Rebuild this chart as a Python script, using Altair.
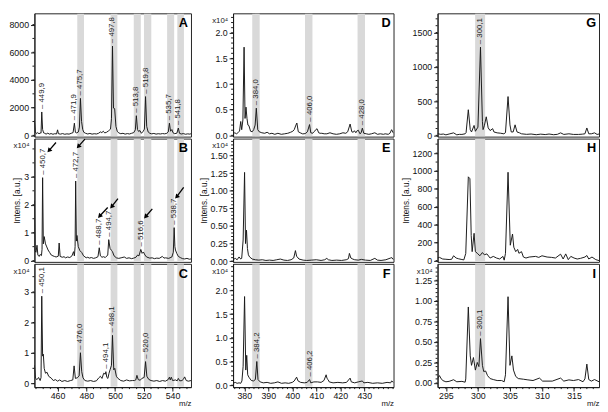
import altair as alt
import pandas as pd

FONT = "Liberation Sans"
INK = "#1a1a1a"
BAND = "#d9d9d9"

# ---------------- column 1 : m/z 444-553 ----------------
col1_domain = [443.9, 552.8]
col1_bands = [(473.7, 478.4), (496.9, 501.6), (513.0, 517.9), (520.1, 525.2), (536.2, 541.1), (543.3, 547.9)]
col1_ticks = [460, 480, 500, 520, 540]
col1_minor = [445, 450, 455, 460, 465, 470, 475, 480, 485, 490, 495, 500, 505, 510, 515, 520, 525, 530, 535, 540, 545, 550]

a_points = [(443.9,1100),(444.5,260),(445.4,120),(446.2,200),(447.1,110),(447.9,180),(448.5,160),(449.0,1690),(449.6,420),(450.3,180),(451.1,150),(452.0,90),(453.2,160),(454.3,90),(455.5,130),(456.8,80),(458.0,120),(459.3,100),(460.0,400),(460.6,120),(462.0,90),(463.5,130),(465.0,80),(466.5,110),(468.0,90),(469.5,150),(470.8,200),(471.7,880),(472.4,220),(473.3,180),(474.5,250),(475.2,600),(475.9,2670),(476.7,1000),(477.5,420),(478.3,220),(479.5,150),(481.0,100),(482.5,140),(484.0,90),(485.5,120),(487.0,100),(488.5,150),(489.8,250),(490.8,200),(491.8,300),(492.8,180),(494.0,220),(495.5,330),(496.8,450),(497.5,1200),(498.2,6450),(498.9,1970),(499.7,1930),(500.6,650),(501.5,300),(502.5,180),(504.0,120),(505.5,150),(507.0,90),(508.5,130),(510.0,100),(511.5,150),(513.0,200),(514.1,400),(514.8,1420),(515.6,420),(516.4,280),(517.3,350),(518.3,150),(519.6,300),(520.4,450),(521.2,2800),(522.0,650),(523.0,250),(524.2,150),(525.5,110),(527.0,140),(528.5,90),(530.0,120),(531.5,100),(533.0,130),(534.5,110),(536.0,150),(537.0,250),(537.8,880),(538.6,300),(539.5,420),(540.3,190),(541.5,120),(543.0,160),(544.0,530),(544.8,150),(546.0,100),(547.5,130),(549.0,80),(550.5,110),(552.0,90),(552.8,120)]
a_peaks = [(449.0,1690,"449,9"),(471.7,880,"471,9"),(475.9,2670,"475,7"),(498.2,6450,"497,8"),(514.8,1420,"513,8"),(521.2,2800,"519,8"),(537.8,880,"535,7"),(544.0,530,"541,8")]

b_points = [(443.9,2.15),(444.4,0.35),(445.0,0.3),(445.7,0.55),(446.3,0.2),(447.2,0.15),(447.9,0.22),(448.8,0.18),(449.2,0.4),(449.6,2.97),(450.1,0.6),(450.7,0.86),(451.6,0.6),(452.5,0.49),(453.4,0.38),(454.5,0.29),(455.6,0.2),(456.8,0.17),(457.8,0.15),(459.0,0.13),(460.5,0.16),(461.1,0.63),(461.8,0.15),(463.3,0.12),(464.5,0.14),(465.5,0.1),(467.0,0.13),(468.5,0.11),(470.0,0.17),(471.1,0.32),(471.7,0.17),(472.2,0.5),(472.6,2.85),(473.1,0.7),(473.5,0.9),(474.4,0.5),(475.5,0.36),(476.8,0.29),(478.1,0.17),(479.9,0.1),(481.0,0.12),(482.1,0.09),(483.5,0.11),(485.0,0.08),(486.5,0.1),(488.1,0.14),(489.0,0.46),(489.8,0.17),(490.9,0.12),(492.0,0.14),(493.2,0.11),(494.9,0.2),(495.6,0.75),(496.5,0.44),(497.6,0.36),(498.2,0.32),(499.3,0.17),(500.9,0.1),(502.5,0.08),(504.2,0.1),(506.4,0.13),(508.0,0.08),(509.7,0.1),(511.5,0.07),(513.0,0.09),(514.5,0.12),(515.7,0.2),(516.6,0.17),(517.9,0.40),(518.8,0.26),(519.7,0.31),(520.8,0.2),(521.9,0.13),(524.1,0.09),(525.8,0.1),(527.4,0.07),(529.0,0.09),(530.7,0.08),(532.9,0.15),(534.0,0.09),(535.1,0.1),(537.3,0.08),(539.5,0.13),(540.5,0.3),(541.1,1.18),(541.6,0.5),(542.0,0.38),(542.9,0.26),(544.0,0.15),(545.7,0.1),(547.0,0.07),(548.4,0.06),(550.0,0.08),(551.7,0.05),(552.8,0.06)]
b_peaks = [(449.6,2.97,"450,7"),(472.6,2.85,"472,7"),(489.0,0.46,"488,7"),(495.6,0.75,"494,7"),(517.9,0.40,"516,6"),(541.1,1.18,"538,7")]
b_arrows = [(458.9,4.23,454.0,3.94),(479.0,4.35,474.4,4.08),(494.9,1.90,489.2,1.59),(502.0,2.22,497.6,1.93),(525.9,1.85,521.2,1.57),(547.7,2.62,542.8,2.28)]

c_points = [(443.9,0.6),(444.6,0.18),(445.7,0.13),(446.8,0.2),(447.9,0.1),(448.5,0.2),(449.0,2.86),(449.6,0.9),(450.1,0.96),(450.7,0.5),(451.6,0.34),(452.7,0.37),(453.8,0.24),(455.6,0.18),(457.0,0.1),(458.5,0.13),(460.0,0.08),(461.5,0.12),(463.0,0.07),(465.0,0.1),(467.0,0.07),(469.0,0.1),(470.6,0.12),(471.5,0.58),(472.4,0.17),(473.7,0.19),(475.0,0.25),(475.9,1.01),(476.8,0.39),(477.7,0.19),(479.0,0.1),(481.0,0.08),(483.0,0.1),(485.0,0.07),(487.0,0.09),(488.7,0.19),(489.8,0.24),(490.9,0.17),(492.1,0.34),(493.2,0.31),(493.6,0.39),(494.3,0.2),(495.0,0.17),(495.8,0.34),(496.5,0.45),(497.5,0.6),(498.2,1.58),(499.1,0.45),(499.8,0.5),(500.9,0.24),(502.0,0.17),(504.0,0.1),(506.0,0.08),(508.0,0.12),(510.0,0.09),(512.0,0.1),(513.5,0.1),(514.4,0.12),(515.2,0.27),(516.1,0.13),(517.5,0.11),(518.6,0.17),(520.2,0.2),(521.2,0.72),(522.1,0.24),(523.4,0.14),(525.0,0.1),(527.0,0.08),(529.0,0.1),(531.0,0.07),(533.0,0.1),(535.0,0.08),(536.9,0.13),(537.8,0.21),(538.4,0.12),(539.1,0.21),(540.0,0.1),(542.0,0.12),(543.2,0.09),(544.0,0.17),(545.0,0.09),(546.5,0.1),(547.5,0.14),(548.4,0.22),(549.5,0.1),(551.0,0.08),(552.8,0.1)]
c_peaks = [(449.0,2.86,"450,1"),(475.9,1.01,"476,0"),(493.6,0.39,"494,1"),(498.2,1.58,"498,1"),(521.2,0.72,"520,0")]

# ---------------- column 2 : m/z 375-442 ----------------
col2_domain = [375.3, 442.2]
col2_bands = [(383.3, 386.4), (405.3, 408.4), (427.2, 430.3)]
col2_ticks = [380, 390, 400, 410, 420, 430]
col2_minor = [376 + 2 * i for i in range(34)]

d_points = [(375.3,0.02),(376.0,0.05),(376.8,0.03),(377.5,0.06),(378.0,0.08),(378.5,0.27),(378.9,0.11),(379.4,0.3),(379.9,1.72),(380.3,0.33),(380.7,0.55),(381.1,0.33),(381.5,0.2),(381.9,0.19),(382.6,0.08),(383.3,0.07),(383.9,0.11),(384.5,0.2),(385.0,0.53),(385.6,0.11),(386.2,0.07),(387.3,0.05),(388.5,0.04),(389.5,0.06),(390.5,0.03),(391.5,0.04),(392.7,0.02),(394.0,0.04),(395.4,0.02),(396.8,0.03),(398.1,0.04),(399.3,0.06),(400.2,0.08),(400.8,0.11),(401.5,0.2),(401.9,0.24),(402.5,0.07),(403.3,0.05),(404.2,0.03),(404.9,0.03),(405.6,0.04),(406.3,0.07),(407.2,0.21),(407.7,0.05),(408.5,0.04),(409.0,0.07),(410.3,0.13),(411.0,0.05),(411.6,0.04),(412.3,0.04),(413.3,0.03),(414.4,0.03),(415.7,0.05),(417.0,0.03),(418.4,0.02),(419.8,0.03),(421.1,0.05),(422.3,0.04),(423.1,0.07),(424.1,0.22),(424.8,0.07),(425.4,0.06),(425.9,0.09),(426.5,0.05),(426.8,0.08),(427.5,0.1),(428.2,0.03),(428.7,0.05),(429.2,0.14),(429.8,0.04),(430.8,0.03),(431.9,0.02),(433.0,0.03),(434.4,0.05),(435.5,0.02),(436.7,0.03),(438.0,0.02),(438.7,0.03),(440.0,0.02),(440.7,0.04),(441.4,0.11),(442.2,0.04)]
d_peaks = [(385.0,0.53,"384,0"),(407.2,0.21,"406,0"),(429.2,0.14,"428,0")]

e_points = [(375.3,0.02),(376.2,0.04),(377.0,0.02),(377.8,0.06),(378.5,0.03),(378.9,0.04),(379.5,0.3),(380.1,1.26),(380.5,0.25),(380.9,0.44),(381.3,0.18),(381.7,0.09),(382.2,0.06),(383.3,0.03),(384.6,0.02),(386.0,0.015),(387.5,0.02),(389.0,0.01),(390.5,0.015),(392.0,0.01),(393.5,0.02),(395.0,0.03),(396.5,0.015),(398.0,0.01),(399.5,0.02),(400.6,0.045),(401.3,0.15),(401.8,0.07),(402.8,0.03),(404.5,0.015),(406.0,0.01),(408.0,0.015),(410.0,0.02),(412.0,0.01),(413.5,0.02),(414.4,0.04),(415.0,0.02),(416.5,0.01),(418.5,0.015),(420.5,0.01),(422.5,0.02),(423.4,0.035),(423.8,0.11),(424.4,0.045),(425.2,0.03),(426.0,0.02),(427.5,0.015),(428.8,0.025),(430.5,0.015),(432.5,0.01),(434.4,0.04),(435.5,0.015),(437.0,0.01),(439.0,0.02),(441.0,0.045),(441.5,0.05),(442.2,0.02)]

f_points = [(375.3,0.04),(376.2,0.06),(377.0,0.04),(377.8,0.05),(378.5,0.04),(379.0,0.09),(379.5,0.4),(380.1,1.87),(380.6,0.32),(381.0,0.63),(381.4,0.22),(381.9,0.17),(382.9,0.1),(383.8,0.09),(384.6,0.12),(385.2,0.5),(385.7,0.12),(386.6,0.07),(387.9,0.05),(389.5,0.06),(391.0,0.04),(392.5,0.05),(394.0,0.07),(395.5,0.04),(397.0,0.05),(398.5,0.04),(400.0,0.06),(400.8,0.09),(401.8,0.17),(402.4,0.09),(403.5,0.06),(405.0,0.05),(406.2,0.06),(407.2,0.12),(407.7,0.05),(409.0,0.07),(410.5,0.07),(412.0,0.06),(413.2,0.1),(414.1,0.22),(414.5,0.14),(414.9,0.12),(415.4,0.07),(417.0,0.05),(419.0,0.06),(421.0,0.05),(422.6,0.06),(424.1,0.15),(424.6,0.07),(426.0,0.05),(427.5,0.07),(429.2,0.09),(429.8,0.05),(431.5,0.06),(433.5,0.04),(435.5,0.05),(437.5,0.04),(439.5,0.06),(441.0,0.05),(441.4,0.09),(442.2,0.06)]
f_peaks = [(385.2,0.5,"384,2"),(407.2,0.12,"406,2")]

# ---------------- column 3 : m/z 294-319 ----------------
col3_domain = [293.7, 318.9]
col3_bands = [(299.56, 301.12)]
col3_ticks = [295, 300, 305, 310, 315]
col3_minor = list(range(294, 319))

g_points = [(293.7,25),(294.2,15),(294.6,20),(295.0,8),(295.5,20),(296.2,37),(296.7,8),(297.1,15),(297.5,14),(298.0,23),(298.15,40),(298.5,374),(298.8,84),(299.0,50),(299.4,145),(299.6,60),(300.0,120),(300.4,1287),(300.7,200),(300.8,84),(301.0,140),(301.3,271),(301.6,110),(301.9,70),(302.3,98),(302.5,50),(303.0,37),(303.5,32),(304.05,23),(304.3,40),(304.7,566),(305.0,154),(305.2,50),(305.5,50),(305.8,154),(306.1,50),(306.5,37),(306.8,23),(307.6,15),(308.3,20),(309.1,10),(309.8,18),(310.5,12),(311.1,20),(311.8,10),(312.4,15),(312.9,37),(313.4,14),(314.2,23),(314.9,14),(315.7,14),(316.3,18),(316.7,23),(317.0,108),(317.3,23),(317.7,23),(318.2,37),(318.6,14),(318.9,20)]
g_peaks = [(300.4,1287,"300,1")]

h_points = [(293.7,29),(294.0,36),(294.5,18),(295.0,15),(295.5,12),(295.9,15),(296.2,54),(296.6,29),(297.0,20),(297.5,12),(297.8,8),(298.1,80),(298.5,935),(298.75,914),(298.95,280),(299.1,100),(299.4,305),(299.6,100),(299.9,82),(300.3,54),(300.7,90),(301.0,65),(301.4,75),(301.9,29),(302.4,47),(302.9,29),(303.4,18),(303.9,47),(304.1,5),(304.3,80),(304.7,986),(305.05,172),(305.4,297),(305.6,150),(305.9,100),(306.2,125),(306.4,82),(306.8,100),(307.1,40),(307.5,29),(308.0,40),(309.0,47),(309.5,36),(310.0,54),(310.8,40),(311.5,36),(312.1,29),(312.9,72),(313.3,18),(313.7,75),(314.1,11),(314.5,47),(315.0,29),(315.5,18),(316.0,25),(316.7,40),(317.0,57),(317.3,18),(317.8,40),(318.4,11),(318.9,0)]

i_points = [(293.7,0.054),(294.0,0.09),(294.2,0.06),(294.5,0.03),(295.0,0.015),(295.5,0.02),(296.2,0.04),(296.7,0.015),(297.5,0.02),(298.0,0.01),(298.1,0.05),(298.5,0.925),(298.8,0.33),(299.0,0.215),(299.3,0.31),(299.6,0.157),(299.9,0.25),(300.15,0.2),(300.4,0.54),(300.7,0.215),(300.9,0.14),(301.2,0.146),(301.5,0.09),(301.9,0.054),(302.4,0.042),(303.0,0.03),(303.7,0.03),(304.1,0.015),(304.3,0.1),(304.7,1.05),(305.0,0.215),(305.3,0.33),(305.55,0.157),(305.9,0.08),(306.3,0.054),(307.1,0.046),(307.8,0.038),(308.6,0.03),(309.6,0.06),(310.1,0.023),(311.6,0.023),(312.9,0.06),(313.4,0.023),(314.2,0.038),(314.9,0.03),(315.7,0.042),(316.4,0.015),(316.7,0.05),(317.0,0.23),(317.3,0.042),(317.7,0.023),(318.2,0.042),(318.9,0.015)]
i_peaks = [(300.4,0.54,"300,1")]

W1, W2, W3 = 160, 164, 165
H_TOP, H_MID, H_BOT = 126, 126, 126


def panel(points, xdom, ydom, bands, w, h, letter, yticks, yfmt, yminor,
          xticks=None, xminor=None, peaks=(), mult=False, ytitle=None, arrows=()):
    xs = alt.Scale(domain=xdom, nice=False, zero=False)
    ys = alt.Scale(domain=ydom, nice=False, zero=False)
    if xticks:
        xax = alt.Axis(values=xticks, format="d", title="m/z", titleAnchor="end",
                       titleFontSize=8, titleFontWeight="normal", titleBaseline="top",
                       titleY=13, labelPadding=1, tickSize=4)
    else:
        xax = None
    if ytitle:
        yax = alt.Axis(values=yticks, format=yfmt, tickSize=4, labelPadding=2,
                       title=ytitle, titleFontSize=8.5, titleFontWeight="normal", titlePadding=2)
    else:
        yax = alt.Axis(values=yticks, format=yfmt, tickSize=4, labelPadding=2, title=None)

    def X(f):
        return alt.X(f, type="quantitative", scale=xs, axis=xax)

    def Y(f):
        return alt.Y(f, type="quantitative", scale=ys, axis=yax)

    layers = []
    band_df = pd.DataFrame(bands, columns=["x0", "x1"])
    layers.append(alt.Chart(band_df).mark_rect(color=BAND).encode(
        x=X("x0"), x2="x1", y=alt.value(0.5), y2=alt.value(h - 0.5)))
    layers.append(alt.Chart(pd.DataFrame({"t": yminor})).mark_rule(color=INK, strokeWidth=1).encode(
        y=Y("t"), x=alt.value(0), x2=alt.value(-2)))
    if xminor:
        layers.append(alt.Chart(pd.DataFrame({"t": xminor})).mark_rule(color=INK, strokeWidth=1).encode(
            x=X("t"), y=alt.value(h), y2=alt.value(h + 2)))
    line_df = pd.DataFrame(points, columns=["mz", "v"])
    layers.append(alt.Chart(line_df).mark_line(color=INK, strokeWidth=1, clip=True).encode(
        x=X("mz"), y=Y("v")))
    if peaks:
        pk = pd.DataFrame(peaks, columns=["mz", "v", "label"])
        pk["label"] = "– " + pk["label"]
        layers.append(alt.Chart(pk).mark_text(font=FONT, fontSize=8, angle=270, align="left",
                                              baseline="middle", dx=3, color=INK).encode(
            x=X("mz"), y=Y("v"), text="label:N"))
    if arrows:
        ar = pd.DataFrame(arrows, columns=["xt", "yt", "xh", "yh"])
        layers.append(alt.Chart(ar).mark_rule(color="#000", strokeWidth=1.3).encode(
            x=X("xt"), y=Y("yt"), x2="xh", y2="yh"))
        layers.append(alt.Chart(ar).mark_point(shape="triangle-up", angle=222, filled=True,
                                               size=28, color="#000", opacity=1).encode(
            x=X("xh"), y=Y("yh")))
    layers.append(alt.Chart(pd.DataFrame({"t": [letter]})).mark_text(
        font=FONT, fontSize=13, fontWeight="bold", align="right", baseline="top", color="#000").encode(
        x=alt.value(w - 3), y=alt.value(4), text="t:N"))
    if mult:
        layers.append(alt.Chart(pd.DataFrame({"t": ["x10⁴"]})).mark_text(
            font=FONT, fontSize=8, align="right", baseline="top", color=INK).encode(
            x=alt.value(-5), y=alt.value(4), text="t:N"))
    return alt.layer(*layers).properties(width=w, height=h)


A = panel(a_points, col1_domain, [-90, 8814], col1_bands, W1, H_TOP, "A",
          [0, 2000, 4000, 6000, 8000], "d", [1000 * i for i in range(9)], peaks=a_peaks)
B = panel(b_points, col1_domain, [-0.045, 4.37], col1_bands, W1, H_MID, "B",
          [0, 1, 2, 3], "d", [0.5 * i for i in range(9)], peaks=b_peaks, mult=True,
          ytitle="Intens. [a.u.]", arrows=b_arrows)
C = panel(c_points, col1_domain, [-0.115, 3.92], col1_bands, W1, H_BOT, "C",
          [0, 1, 2, 3], "d", [0.5 * i for i in range(8)], xticks=col1_ticks, xminor=col1_minor,
          peaks=c_peaks, mult=True)

D = panel(d_points, col2_domain, [-0.025, 2.38], col2_bands, W2, H_TOP, "D",
          [0, 0.5, 1.0, 1.5, 2.0], ".1f", [0.1 * i for i in range(24)], peaks=d_peaks, mult=True)
E = panel(e_points, col2_domain, [-0.01, 1.74], col2_bands, W2, H_MID, "E",
          [0, 0.25, 0.5, 0.75, 1.0, 1.25, 1.5], ".2f", [0.05 * i for i in range(35)], mult=True,
          ytitle="Intens. [a.u.]")
F = panel(f_points, col2_domain, [-0.04, 2.56], col2_bands, W2, H_BOT, "F",
          [0, 0.5, 1.0, 1.5, 2.0], ".1f", [0.1 * i for i in range(26)], xticks=col2_ticks,
          xminor=col2_minor, peaks=f_peaks, mult=True)

G = panel(g_points, col3_domain, [-18, 1780], col3_bands, W3, H_TOP, "G",
          [0, 500, 1000, 1500], "d", [100 * i for i in range(18)], peaks=g_peaks)
H = panel(h_points, col3_domain, [-14, 1362], col3_bands, W3, H_MID, "H",
          [0, 200, 400, 600, 800, 1000, 1200], "d", [100 * i for i in range(14)],
          ytitle="Intens. [a.u.]")
I = panel(i_points, col3_domain, [-0.05, 1.45], col3_bands, W3, H_BOT, "I",
          [0, 0.25, 0.5, 0.75, 1.0, 1.25], ".2f", [0.05 * i for i in range(29)], xticks=col3_ticks,
          xminor=col3_minor, peaks=i_peaks, mult=True)

col1 = alt.vconcat(A, B, C, spacing=2, bounds="flush")
col2 = alt.vconcat(D, E, F, spacing=2, bounds="flush")
col3 = alt.vconcat(G, H, I, spacing=2, bounds="flush")

chart = alt.hconcat(col1, col2, col3, spacing=6).properties(
    padding=0, background="white"
).configure_view(
    stroke="#222", strokeWidth=1
).configure_axis(
    labelFont=FONT, labelFontSize=9, labelColor="#111", titleFont=FONT, titleColor="#111",
    domainColor=INK, tickColor=INK, grid=False
)

chart.save("out.html", embed_options={"renderer": "svg", "actions": False})
